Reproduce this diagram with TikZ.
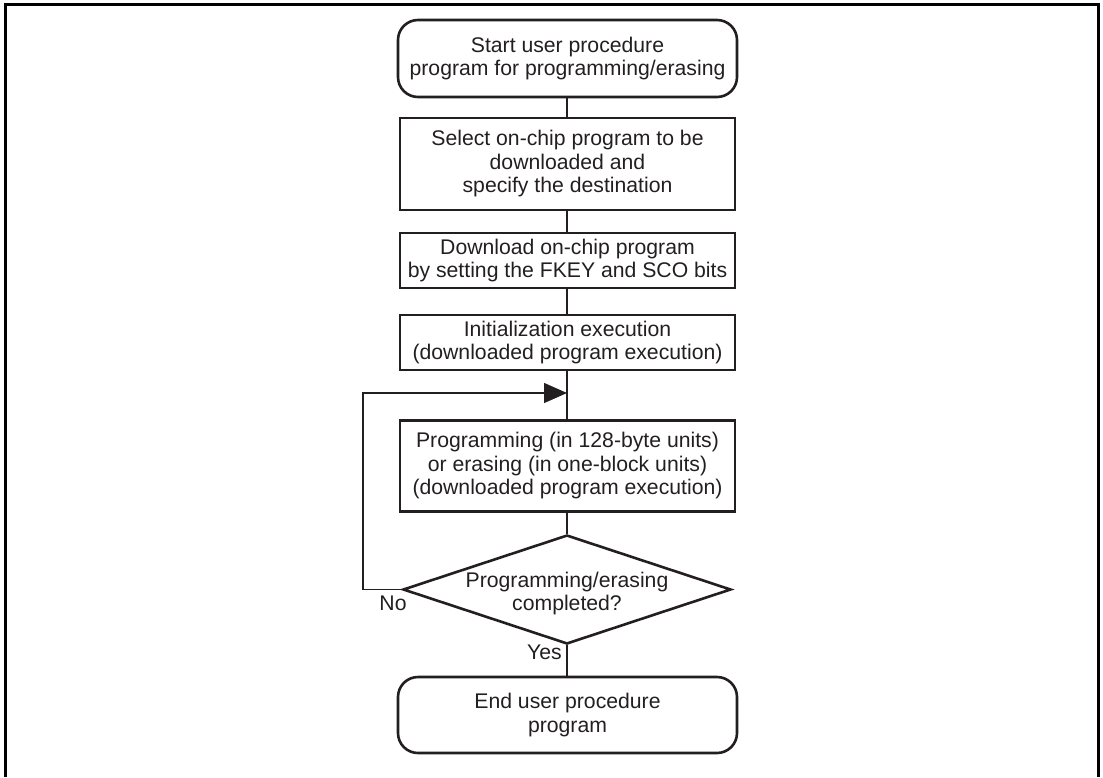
\documentclass[tikz,border=0pt]{standalone}
\usepackage{fontspec}
\setmainfont{Liberation Sans}
\usetikzlibrary{shapes.geometric,arrows.meta}
\definecolor{ink}{RGB}{35,31,32}
\begin{document}
\begin{tikzpicture}[x=1pt,y=-1pt,
  every node/.style={text=ink,font=\fontsize{21.2pt}{23.5pt}\selectfont},
  term/.style={draw=ink,line width=2.6pt,rounded corners=20pt,minimum width=339pt,inner sep=0pt,align=center},
  proc/.style={draw=ink,line width=2.6pt,minimum width=335pt,inner sep=0pt,align=center},
  dec/.style={draw=ink,line width=2.6pt,diamond,minimum width=328pt,minimum height=109pt,inner sep=0pt},
  conn/.style={draw=ink,line width=1.3pt},
  lbl/.style={inner sep=0pt}]
\useasboundingbox (0,0) rectangle (1103,777);
\draw[line width=3pt,black] (5,777) -- (5,4) -- (1098,4) -- (1098,777);

\node[term,minimum height=77pt] (start) at (567.5,58.5) {Start user procedure\\program for programming/erasing};
\node[proc,minimum height=92pt] (sel) at (567.5,164) {Select on-chip program to be\\downloaded and\\specify the destination};
\node[proc,minimum height=55pt] (dl) at (567.5,260.5) {Download on-chip program\\by setting the FKEY and SCO bits};
\node[proc,minimum height=55pt] (init) at (567.5,342.5) {Initialization execution\\(downloaded program execution)};
\node[proc,minimum height=91pt] (prog) at (567.5,466) {Programming (in 128-byte units)\\or erasing (in one-block units)\\(downloaded program execution)};
\node[dec] (chk) at (567,589.5) {};
\node[align=center,inner sep=0pt] (chktxt) at ([yshift=-4pt]chk.center) {Programming/erasing\\completed?};
\node[term,minimum height=76pt] (end) at (567.5,715) {End user procedure\\program};

\coordinate (merge) at (567,393);
\coordinate (lc) at (363,589.5);
\coordinate (lt) at (363,393);

\draw[conn] (start.south -| merge) -- (sel.north -| merge);
\draw[conn] (sel.south -| merge) -- (dl.north -| merge);
\draw[conn] (dl.south -| merge) -- (init.north -| merge);
\draw[conn] (init.south -| merge) -- (prog.north -| merge);
\draw[conn] (prog.south -| merge) -- (chk.north);
\draw[conn] (chk.south) -- (end.north -| chk.south);
\draw[conn,-{Triangle[length=23pt,width=20pt]}] (chk.west) -- (lc) -- (lt) -- (merge);

\node[lbl] (no) at (393,603) {No};
\node[lbl,anchor=east] (yes) at (562,652) {Yes};
\end{tikzpicture}
\end{document}
